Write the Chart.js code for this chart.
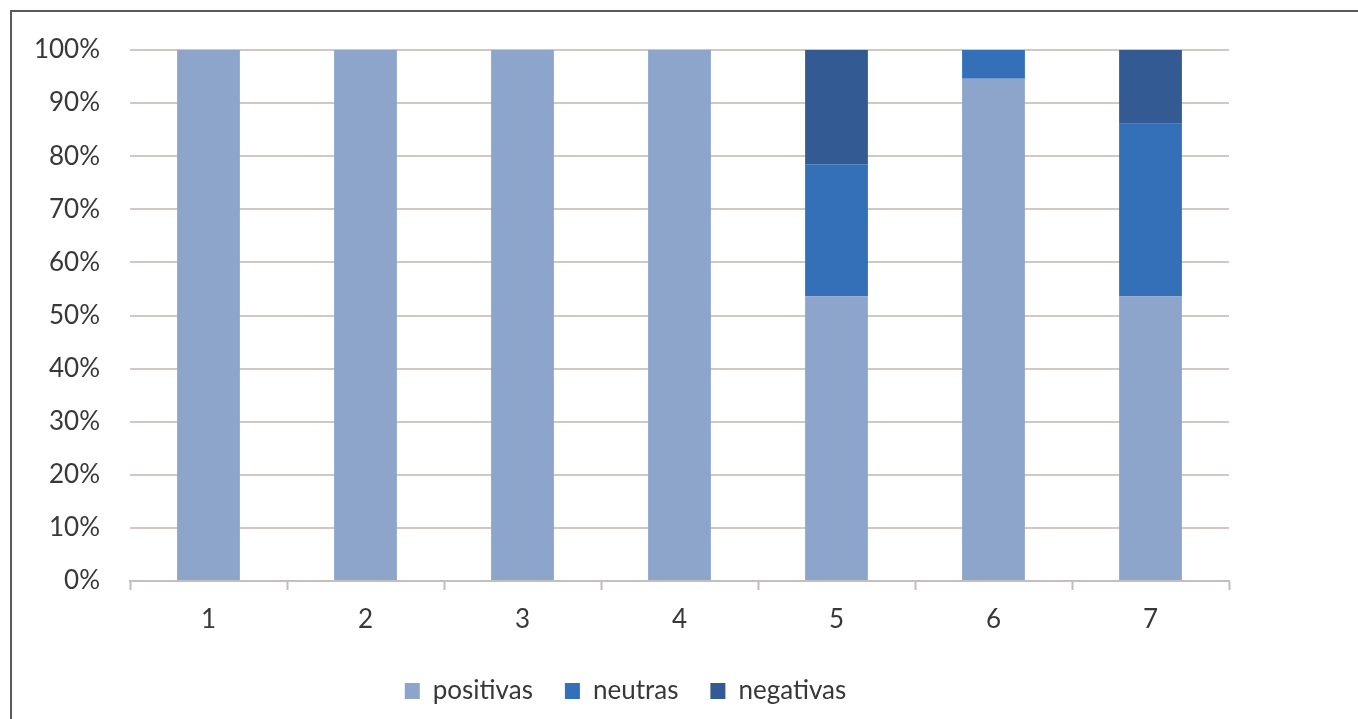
<!DOCTYPE html>
<html>
<head>
<meta charset="utf-8">
<script src="https://cdn.jsdelivr.net/npm/chart.js@4"></script>
<style>
  html, body { margin: 0; padding: 0; background: #ffffff; overflow: hidden; }
  #frame { position: absolute; left: 10px; top: 10px; width: 1400px; height: 800px;
           border-left: 2px solid #5a5a5a; border-top: 2px solid #5a5a5a; }
  #wrap { position: absolute; left: 0; top: 0; width: 1358px; height: 719px; }
</style>
</head>
<body>
<div id="frame"></div>
<div id="wrap"><canvas id="c" width="1358" height="719"></canvas></div>
<script>
const categories = ['1', '2', '3', '4', '5', '6', '7'];
const positivas = [100, 100, 100, 100, 53.6, 94.6, 53.6];
const neutras   = [0, 0, 0, 0, 24.9, 5.4, 32.5];
const negativas = [0, 0, 0, 0, 21.5, 0, 13.9];
const seriesNames = ['positivas', 'neutras', 'negativas'];
const yTicks = [0, 10, 20, 30, 40, 50, 60, 70, 80, 90, 100];

const FONT = 'Lato';
const TEXT = '#383838';
const GRID = '#cfc8c4';

const legendShift = {
  id: 'legendShift',
  afterLayout(chart) {
    const lg = chart.legend;
    if (!lg) return;
    lg.left += 11; lg.right += 11;
    lg.top -= 5; lg.bottom -= 5;
  }
};

new Chart(document.getElementById('c'), {
  type: 'bar',
  data: {
    labels: categories,
    datasets: [
      { label: seriesNames[0], data: positivas, backgroundColor: '#8ea5cb' },
      { label: seriesNames[1], data: neutras,   backgroundColor: '#3470b8' },
      { label: seriesNames[2], data: negativas, backgroundColor: '#335a92' }
    ]
  },
  options: {
    responsive: false,
    animation: false,
    devicePixelRatio: 1,
    datasets: { bar: { categoryPercentage: 1.0, barPercentage: 0.4 } },
    layout: { padding: { left: 0, right: 129, top: 50, bottom: 0 } },
    plugins: {
      tooltip: { enabled: false },
      legend: {
        position: 'bottom',
        labels: {
          boxWidth: 15, boxHeight: 16, padding: 32,
          color: TEXT,
          font: { family: FONT, size: 26 }
        }
      }
    },
    scales: {
      x: {
        stacked: true,
        offset: true,
        grid: { display: true, drawOnChartArea: false, drawTicks: true, tickLength: 9,
                tickColor: '#bdbdbd', tickWidth: 2, offset: true },
        border: { display: true, color: '#c4bfbc', width: 2 },
        ticks: { color: TEXT, padding: 14, font: { family: FONT, size: 26 } },
        afterFit(scale) { scale.height = 70; }
      },
      y: {
        stacked: true,
        min: 0, max: 100,
        afterBuildTicks(scale) { scale.ticks = yTicks.map(v => ({ value: v })); },
        grid: { color: GRID, lineWidth: 2, drawTicks: false },
        border: { display: false },
        ticks: { color: TEXT, padding: 30, font: { family: FONT, size: 26 },
                 callback: v => v + '%' },
        afterFit(scale) { scale.width = 130; }
      }
    }
  },
  plugins: [legendShift]
});
</script>
</body>
</html>
